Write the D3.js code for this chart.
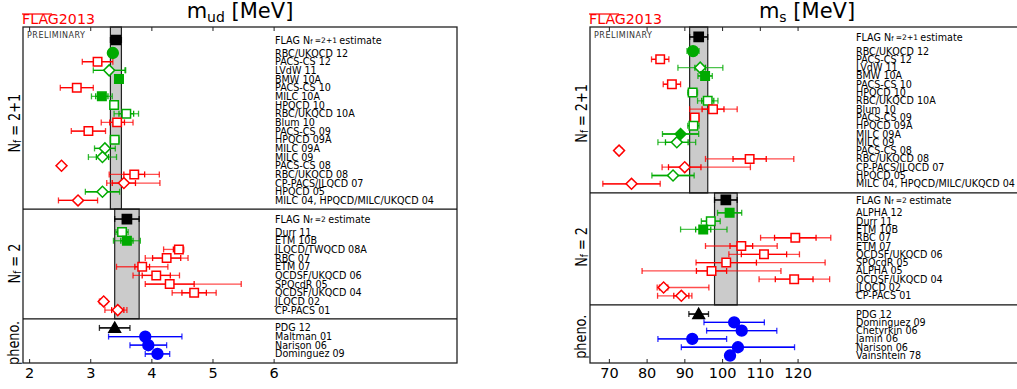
<!DOCTYPE html>
<html>
<head>
<meta charset="utf-8">
<script src="https://cdn.jsdelivr.net/npm/d3@7"></script>
<style>
	body { margin: 0; background: #fff; }
	text { font-family: 'DejaVu Sans', sans-serif; }
</style>
</head>
<body>
<div id="chart"></div>
<script>
// marker codes: colour letter (g green, r red, k black, b blue; upper case = filled) + shape (s, d, c, t)

// m_ud, Nf = 2+1
const udFlag21 = [3.42, 0.09];
const udNames21 = ['RBC/UKQCD 12', 'PACS-CS 12', 'LVdW 11', 'BMW 10A', 'PACS-CS 10', 'MILC 10A', 'HPQCD 10',
	'RBC/UKQCD 10A', 'Blum 10', 'PACS-CS 09', 'HPQCD 09A', 'MILC 09A', 'MILC 09', 'PACS-CS 08', 'RBC/UKQCD 08',
	'CP-PACS/JLQCD 07', 'HPQCD 05', 'MILC 04, HPQCD/MILC/UKQCD 04'];
const udValues21 = [3.37, 3.12, 3.31, 3.47, 2.78, 3.19, 3.39, 3.59, 3.44, 2.97, 3.40, 3.24, 3.20, 2.53, 3.72, 3.55, 3.20, 2.80];
const udStat21 = [0.06, 0.25, 0.26, 0.07, 0.27, 0.10, 0.06, 0.12, 0.12, 0.28, 0.07, 0.17, 0.10, 0, 0.17, 0.19, 0.28, 0.32];
const udLo21 = [0.06, 0.25, 0.26, 0.07, 0.27, 0.17, 0.06, 0.20, 0.26, 0.28, 0.07, 0.17, 0.23, 0, 0.41, 0.28, 0.28, 0.32];
const udHi21 = [0.06, 0.25, 0.27, 0.07, 0.27, 0.17, 0.06, 0.20, 0.26, 0.28, 0.07, 0.17, 0.23, 0, 0.41, 0.59, 0.28, 0.32];
const udMarks21 = ['Gc', 'rs', 'gd', 'Gs', 'rs', 'Gs', 'gs', 'gs', 'rs', 'rs', 'gs', 'gd', 'gd', 'rd', 'rs', 'rd', 'gd', 'rd'];

// m_ud, Nf = 2
const udFlag2 = [3.6, 0.2];
const udNames2 = ['Durr 11', 'ETM 10B', 'JLQCD/TWQCD 08A', 'RBC 07', 'ETM 07', 'QCDSF/UKQCD 06', 'SPQcdR 05',
	'QCDSF/UKQCD 04', 'JLQCD 02', 'CP-PACS 01'];
const udValues2 = [3.52, 3.60, 4.45, 4.25, 3.85, 4.08, 4.30, 4.70, 3.22, 3.45];
const udStat2 = [0.10, 0.10, 0.09, 0.23, 0.12, 0.23, 0.40, 0.20, 0.05, 0.10];
const udLo2 = [0.10, 0.22, 0.25, 0.35, 0.42, 0.38, 0.40, 0.36, 0.07, 0.21];
const udHi2 = [0.10, 0.22, 0.08, 0.35, 0.42, 0.38, 1.17, 0.36, 0.05, 0.15];
const udMarks2 = ['gs', 'Gs', 'rs', 'rs', 'rs', 'rs', 'rs', 'rs', 'rd', 'rd'];

// m_ud, phenomenology
const udNamesPh = ['PDG 12', 'Maltman 01', 'Narison 06', 'Dominguez 09'];
const udValuesPh = [3.40, 3.90, 3.95, 4.10];
const udErrPh = [0.25, 0.60, 0.30, 0.20];
const udMarksPh = ['Kt', 'Bc', 'Bc', 'Bc'];

// m_s, Nf = 2+1
const msFlag21 = [93.8, 2.4];
const msNames21 = ['RBC/UKQCD 12', 'PACS-CS 12', 'LVdW 11', 'BMW 10A', 'PACS-CS 10', 'HPQCD 10', 'RBC/UKQCD 10A',
	'Blum 10', 'PACS-CS 09', 'HPQCD 09A', 'MILC 09A', 'MILC 09', 'PACS-CS 08', 'RBC/UKQCD 08', 'CP-PACS/JLQCD 07',
	'HPQCD 05', 'MILC 04, HPQCD/MILC/UKQCD 04'];
const msValues21 = [92.3, 83.6, 94.2, 95.5, 86.7, 92.2, 96.2, 97.6, 92.75, 92.4, 89.0, 88.0, 72.7, 107.3, 90.1, 87.0, 76.0];
const msStat21 = [1.6, 2.3, 1.4, 1.9, 2.3, 1.3, 1.6, 2.9, 1.1, 1.5, 4.8, 3.0, 0.8, 4.4, 4.3, 5.6, 7.6];
const msLo21 = [1.6, 2.3, 5.9, 1.9, 2.3, 1.3, 2.7, 6.2, 1.1, 1.5, 4.8, 5.0, 0.8, 11.7, 6.0, 5.6, 7.6];
const msHi21 = [1.6, 2.3, 6.0, 1.9, 2.3, 1.3, 2.7, 6.4, 1.1, 1.5, 4.8, 5.0, 0.8, 11.7, 17.4, 5.6, 7.6];
const msMarks21 = ['Gc', 'rs', 'gd', 'Gs', 'rs', 'gs', 'gs', 'rs', 'rs', 'gs', 'Gd', 'gd', 'rd', 'rs', 'rd', 'gd', 'rd'];

// m_s, Nf = 2
const msFlag2 = [101, 3];
const msNames2 = ['ALPHA 12', 'Durr 11', 'ETM 10B', 'RBC 07', 'ETM 07', 'QCDSF/UKQCD 06', 'SPQcdR 05', 'ALPHA 05',
	'QCDSF/UKQCD 04', 'JLQCD 02', 'CP-PACS 01'];
const msValues2 = [102.0, 97.0, 95.0, 119.4, 105.1, 111.1, 101.1, 97.2, 119.1, 84.5, 89.2];
const msStat2 = [3.2, 2.5, 2.0, 5.5, 3.0, 6.0, 8.0, 4.0, 5.0, 1.1, 2.0];
const msLo2 = [3.2, 2.5, 6.0, 9.2, 9.5, 9.3, 8.0, 18.4, 9.3, 1.7, 6.3];
const msHi2 = [3.2, 2.5, 6.3, 9.4, 9.5, 9.4, 26.2, 18.4, 9.4, 12.0, 2.8];
const msMarks2 = ['Gs', 'gs', 'Gs', 'rs', 'rs', 'rs', 'rs', 'rs', 'rs', 'rd', 'rd'];

// m_s, phenomenology
const msNamesPh = ['PDG 12', 'Dominguez 09', 'Chetyrkin 06', 'Jamin 06', 'Narison 06', 'Vainshtein 78'];
const msValuesPh = [93.8, 103.2, 105.2, 92.1, 104.2, 102.1];
const msErrPh = [2.6, 8.0, 9.3, 9.1, 15.0, 0];
const msMarksPh = ['Kt', 'Bc', 'Bc', 'Bc', 'Bc', 'Bc'];

const udTicks = [2, 3, 4, 5, 6];
const msTicks = [70, 80, 90, 100, 110, 120];

const width = 1017;
const height = 389;
const plotTop = 27;
const plotBottom = 363;
const colors = { g: '#00aa00', r: '#ff0000', k: '#000000', b: '#0000ff' };

const svg = d3.select('#chart').append('svg')
	.attr('width', width)
	.attr('height', height)
	.style('display', 'block');

svg.append('rect').attr('width', width).attr('height', height).attr('fill', '#fff');

const rows = (names, values, stat, lo, hi, marks) =>
	names.map((name, i) => ({ name, value: values[i], stat: stat[i], lo: lo[i], hi: hi[i], mark: marks[i] }));

const markerPath = (mark) => {
	const shape = mark[1];
	if (shape === 's') return d3.symbol().type(d3.symbolSquare).size(72)();
	if (shape === 'd') return d3.symbol().type(d3.symbolSquare).size(60)();
	if (shape === 'c') return d3.symbol().type(d3.symbolCircle).size(92)();
	return d3.symbol().type(d3.symbolTriangle).size(58)();
};

const drawPanel = (p) => {
	const g = svg.append('g');
	const x = d3.scaleLinear().domain(p.domain).range([p.left, p.left + p.width]);

	// lay the sections out in row units
	let total = 0;
	const secs = p.sections.map(s => {
		const start = total;
		const flagRow = s.flag ? start + s.padTop : null;
		const firstRow = s.flag ? flagRow + s.gap : start + s.padTop;
		total = firstRow + s.data.length - 1 + s.padBottom;
		return { ...s, start, end: total, flagRow, firstRow };
	});
	const y = d3.scaleLinear().domain([0, total]).range([plotTop, plotBottom]);

	// FLAG bands
	secs.filter(s => s.flag).forEach(s => {
		g.append('rect')
			.attr('x', x(s.flag[0] - s.flag[1]))
			.attr('y', y(s.start))
			.attr('width', x(s.flag[0] + s.flag[1]) - x(s.flag[0] - s.flag[1]))
			.attr('height', y(s.end) - y(s.start))
			.attr('fill', '#cbcbcb')
			.attr('stroke', '#222')
			.attr('stroke-width', 1.2);
	});

	// frame and dividers
	g.append('rect')
		.attr('x', p.left).attr('y', plotTop)
		.attr('width', p.width).attr('height', plotBottom - plotTop)
		.attr('fill', 'none').attr('stroke', '#222').attr('stroke-width', 1.3);
	secs.slice(1).forEach(s => {
		g.append('line')
			.attr('x1', p.left).attr('x2', p.left + p.width)
			.attr('y1', y(s.start)).attr('y2', y(s.start))
			.attr('stroke', '#111').attr('stroke-width', 1.2);
	});

	// axes (ticks pointing inwards)
	const bottomAxis = g.append('g')
		.attr('transform', `translate(0,${plotBottom})`)
		.call(d3.axisBottom(x).tickValues(p.ticks).tickSize(-4).tickPadding(5).tickFormat(d3.format('d')));
	bottomAxis.select('.domain').remove();
	bottomAxis.selectAll('text').attr('font-size', '14.5px').attr('fill', '#000')
		.attr('font-family', "'DejaVu Sans', sans-serif");
	bottomAxis.selectAll('line').attr('stroke', '#222');

	const topAxis = g.append('g')
		.attr('transform', `translate(0,${plotTop})`)
		.call(d3.axisTop(x).tickValues(p.ticks).tickSize(-4).tickFormat(''));
	topAxis.select('.domain').remove();
	topAxis.selectAll('line').attr('stroke', '#222');

	const points = [];
	secs.forEach(s => {
		if (s.flag) {
			points.push({ value: s.flag[0], stat: s.flag[1], lo: s.flag[1], hi: s.flag[1], mark: 'Ks', row: s.flagRow, big: true });
		}
		s.data.forEach((d, i) => points.push({ ...d, row: s.firstRow + i }));
	});

	// error bars
	const bars = g.append('g').attr('fill', 'none').attr('stroke-width', 1.3);
	points.filter(d => d.lo > 0 || d.hi > 0).forEach(d => {
		const c = colors[d.mark[0].toLowerCase()];
		const yy = y(d.row);
		const cap = (v, op) => bars.append('line')
			.attr('x1', x(v)).attr('x2', x(v))
			.attr('y1', yy - 3).attr('y2', yy + 3)
			.attr('stroke', c).attr('stroke-opacity', op);
		bars.append('line')
			.attr('x1', x(d.value - d.lo)).attr('x2', x(d.value + d.hi))
			.attr('y1', yy).attr('y2', yy)
			.attr('stroke', c).attr('stroke-opacity', 0.7);
		bars.append('line')
			.attr('x1', x(d.value - Math.min(d.stat, d.lo))).attr('x2', x(d.value + Math.min(d.stat, d.hi)))
			.attr('y1', yy).attr('y2', yy)
			.attr('stroke', c);
		cap(d.value - d.lo, 0.8);
		cap(d.value + d.hi, 0.8);
		if (d.stat < d.lo) cap(d.value - d.stat, 1);
		if (d.stat < d.hi) cap(d.value + d.stat, 1);
	});

	// markers
	g.append('g').selectAll('path')
		.data(points)
		.enter()
		.append('path')
		.attr('d', d => d.big ? d3.symbol().type(d3.symbolSquare).size(85)() : markerPath(d.mark))
		.attr('transform', d => `translate(${x(d.value)},${y(d.row) + (d.mark[1] === 't' ? 1 : 0)})` + (d.mark[1] === 'd' ? ' rotate(45)' : ''))
		.attr('fill', d => d.mark[0] === d.mark[0].toUpperCase() ? colors[d.mark[0].toLowerCase()] : '#fff')
		.attr('stroke', d => colors[d.mark[0].toLowerCase()])
		.attr('stroke-width', 1.5);

	// row labels
	const labels = g.append('g').attr('font-size', '9.6px').attr('fill', '#000');
	secs.forEach(s => {
		if (s.flag) {
			const t = labels.append('text')
				.attr('x', p.labelX).attr('y', y(s.flagRow))
				.attr('dominant-baseline', 'central');
			t.append('tspan').text('FLAG N');
			t.append('tspan').attr('font-size', '6.5px').attr('dy', 2).text('f');
			t.append('tspan').attr('font-size', '7.5px').attr('dy', -2).text(' =' + s.nf + ' ');
			t.append('tspan').text('estimate');
		}
		s.data.forEach((d, i) => {
			labels.append('text')
				.attr('x', p.labelX).attr('y', y(s.firstRow + i))
				.attr('dominant-baseline', 'central')
				.text(d.name);
		});

		// section label on the left, squeezed along its length like the reference
		const mid = s.flag ? (y(s.flagRow) + y(s.firstRow + s.data.length - 1)) / 2 + (s.nf === '2+1' ? 3 : -1)
			: (y(s.firstRow) + y(s.firstRow + s.data.length - 1)) / 2 + 2;
		const t = g.append('text')
			.attr('transform', `translate(${p.left - 10},${mid}) scale(1,0.78) rotate(-90)`)
			.attr('text-anchor', 'middle')
			.attr('dominant-baseline', 'central')
			.attr('font-size', '16.5px');
		if (s.nf) {
			t.append('tspan').text('N');
			t.append('tspan').attr('font-size', '11px').attr('dy', 4).text('f');
			t.append('tspan').attr('dy', -4).text(' = ' + s.nf);
		} else {
			t.text('pheno.');
		}
	});

	// title
	const title = g.append('text')
		.attr('x', p.left + p.width / 2).attr('y', 18)
		.attr('text-anchor', 'middle')
		.attr('font-size', '21px');
	title.append('tspan').text('m');
	title.append('tspan').attr('font-size', '14px').attr('dy', 4).text(p.sub);
	title.append('tspan').attr('dy', -4).text(' [MeV]');

	// logo and watermark
	g.append('text')
		.attr('x', p.left - 1).attr('y', 23.5)
		.attr('font-size', '14.2px')
		.attr('fill', '#ff0000')
		.text('FLAG2013');
	g.append('line')
		.attr('x1', p.left - 1).attr('x2', p.left + 29)
		.attr('y1', 14).attr('y2', 14)
		.attr('stroke', '#ff0000').attr('stroke-width', 1.2);
	g.append('text')
		.attr('x', p.left + 4).attr('y', 38)
		.attr('font-size', '8px')
		.attr('letter-spacing', '0.5px')
		.attr('fill', '#333')
		.text('PRELIMINARY');
};

drawPanel({
	left: 23,
	width: 434,
	domain: [1.9, 9.0],
	ticks: udTicks,
	sub: 'ud',
	labelX: 275,
	sections: [
		{ nf: '2+1', flag: udFlag21, padTop: 1.5, gap: 1.5, padBottom: 1.0,
			data: rows(udNames21, udValues21, udStat21, udLo21, udHi21, udMarks21) },
		{ nf: '2', flag: udFlag2, padTop: 1.15, gap: 1.5, padBottom: 1.0,
			data: rows(udNames2, udValues2, udStat2, udLo2, udHi2, udMarks2) },
		{ padTop: 1.05, padBottom: 1.05,
			data: rows(udNamesPh, udValuesPh, udErrPh, udErrPh, udErrPh, udMarksPh) }
	]
});

drawPanel({
	left: 590,
	width: 434,
	domain: [65, 180],
	ticks: msTicks,
	sub: 's',
	labelX: 856,
	sections: [
		{ nf: '2+1', flag: msFlag21, padTop: 1.2, gap: 1.7, padBottom: 1.1,
			data: rows(msNames21, msValues21, msStat21, msLo21, msHi21, msMarks21) },
		{ nf: '2', flag: msFlag2, padTop: 0.85, gap: 1.55, padBottom: 1.1,
			data: rows(msNames2, msValues2, msStat2, msLo2, msHi2, msMarks2) },
		{ padTop: 1.1, padBottom: 0.9,
			data: rows(msNamesPh, msValuesPh, msErrPh, msErrPh, msErrPh, msMarksPh) }
	]
});
</script>
</body>
</html>
